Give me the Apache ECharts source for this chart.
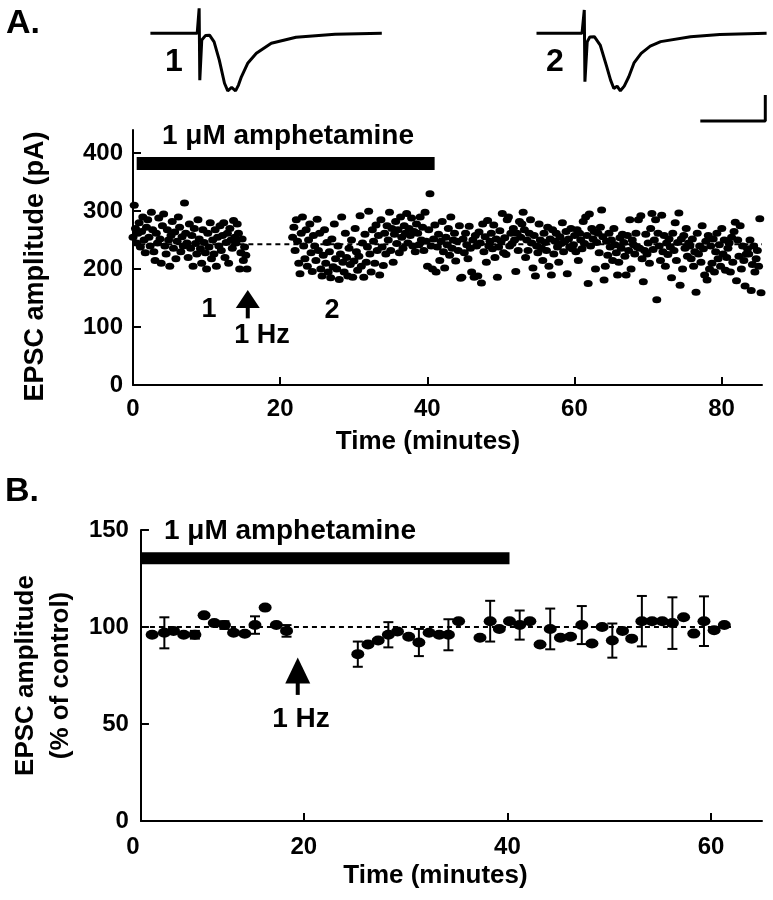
<!DOCTYPE html>
<html><head><meta charset="utf-8">
<script src="https://cdn.jsdelivr.net/npm/echarts@6/dist/echarts.min.js"></script>
<style>html,body{margin:0;padding:0;background:#fff}#c{width:773px;height:900px}</style>
</head><body><div id="c"></div>
<script>
// ===== DATA =====
// Example EPSC traces (time in ms, amplitude in pA)
const trace1Time = [0,7.2,7.5,7.6,7.9,8.5,9.1,9.8,10.6,11.4,11.9,12.5,13.1,13.55,14.0,15.0,16.3,18.6,22.4,28.4,35.6];
const trace1Amp  = [0,0,96,-180,-26,-8,-7,-33,-103,-192,-221,-208,-221,-199,-167,-114,-77,-38,-15,-4,0];
const trace2Time = [0,7.0,7.35,7.45,7.8,8.2,8.9,9.8,10.8,11.4,11.9,12.4,12.9,13.5,14.2,15.0,16.1,17.5,19.1,23.7,28.2,35.4];
const trace2Amp  = [0,0,90,-186,-33,-14,-13,-45,-128,-180,-212,-203,-221,-203,-167,-114,-77,-49,-32,-13,-5,0];
// Scale bar: 10 ms / 100 pA
const scaleBarTime = [25.2,35.2,35.2];
const scaleBarAmp  = [-337,-337,-237];

// Panel A: EPSC amplitude (pA), sampled every 10 s
const sampleStepMin = 1/6;
const segA1Start = 0;
const ampA1 = [
 255,310,270,245,262,280, 238,265,290,250,228,272, 285,255,240,298,268,230,
 215,262,245,288,252,210, 275,295,240,226,268,250, 205,258,282,236,264,218,
 248,290,272,230,256,240, 314,262,245,220,278,236, 258,205,270,244,226,285,
 252,235,210,268,246,228, 200,262,238,280,218,250, 226,268,205,255,240,275,
 232,258,280,220,246,262, 210,270,250,236,284,255, 245,278,262,200,228,252,
 215,238,224,200];
const segA2Start = 21.7;
const ampA2 = [
 255,272,232,285,248,210, 192,262,290,240,218,268, 205,250,278,228,196,258,
 240,215,286,232,262,200, 188,224,268,210,246,195, 230,185,252,204,278,218,
 200,240,182,226,290,212, 195,262,220,188,236,208, 250,186,214,270,230,198,
 222,292,205,245,186,260, 212,238,300,226,195,268, 248,210,276,232,258,190,
 285,238,206,262,226,275, 250,298,232,270,212,260, 282,244,268,228,290,255,
 236,275,262,296,245,270, 258,288,240,265,230,278, 262,242,290,250,272,232,
 298,248,205,268,330,240, 200,252,276,195,238,260, 215,248,282,230,202,255,
 242,270,224,290,236,250, 262,214,248,232,275,184, 186,252,228,262,242,218,
 274,236,195,250,186,258, 240,188,264,245,176,278, 230,256,212,284,240,248,
 262,235,276,220,252,186, 238,266,248,296,228,254, 225,285,290,240,262,244,
 270,250,196,262,232,282, 255,278,298,268,220,250, 232,262,285,245,202,258,
 188,240,228,278,250,236, 215,262,246,232,272,205, 252,190,268,226,248,262,
 238,212,256,244,280,230, 248,265,192,252,238,270, 235,242,258,230,268,215,
 262,250,235,282,244,290, 258,175,295,240,270,252, 265,200,246,262,228,272,
 302,256,181,205,248,224, 262,238,250,215,270,242, 228,190,212,254,236,260,
 246,222,190,258,232,285, 200,250,242,226,262,238, 285,236,292,218,178,232,
 260,226,245,210,270,296, 234,250,285,147,262,240, 215,293,230,258,205,245,
 225,252,238,185,262,232, 280,215,246,297,172,252, 200,258,236,270,222,245,
 240,218,252,205,230,160, 262,226,240,212,275,235, 190,248,181,258,200,240,
 210,252,195,230,262,218, 242,205,270,226,250,198, 220,236,245,195,255,212,
 265,281,180,250,222,275, 200,240,215,171,226,235, 226,250,163,208,240,195,
 218,232,205,287,159];
const baselineA = 243;           // mean amplitude, pA
const baselineASpan = [1, 85.5]; // minutes
const drugA = [0.5, 41];         // amphetamine application, minutes
const drugALevel = 382;
const stimA = [15.6, 115, 164];  // 1 Hz arrow: time, tail, tip (pA)
const xTicksA = [0,20,40,60,80];
const yTicksA = [0,100,200,300,400];

// Panel B: normalized EPSC amplitude (% of control), mean ± SEM
const timeB = [5.1,6.3,7.2,8.2,9.3,10.2,11.2,12.2,13.1,14.2,15.2,16.2,17.3,18.3,
 25.3,26.3,27.3,28.3,29.2,30.3,31.3,32.3,33.3,34.2,35.2,
 37.3,38.3,39.2,40.2,41.2,42.2,43.2,44.2,45.2,46.2,47.3,48.3,49.3,50.3,51.3,52.2,53.2,54.2,55.2,56.2,57.3,58.3,59.3,60.3,61.3];
const valB = [96,97,98,96,96,106,102,101,97,96.5,101,110,101,98,
 86,91,93,96,97.7,95,92,97,96,96,103,
 94.5,103,99,103,101,103,91,99,94.5,95,101,91.5,100,93,98,94,103,103,103,102,105,96.6,103,98.3,101];
const semB = [0,8,0,0,2,0,0,2,0,0,4.5,0,0,3,
 6.5,0,0,6.5,0,0,7,0,0,8,0,
 0,10.5,0,0,7.5,0,0,10.5,0,0,9.8,0,0,8.8,0,0,13,0,0,13.3,0,0,12.8,0,0];
const baselineB = 100;
const baselineBSpan = [4, 62];
const drugB = [4.1, 40.2];
const drugBLevel = 135.5;
const stimB = [19.4, 65, 84.3];
const xMinB = 4;                 // axis origin (marked "0" in the original figure)
const xTicksB = [20,40,60];
const yTicksB = [0,50,100,150];

// ===== CHART =====
const FONT = "'Liberation Sans', Arial, Helvetica, sans-serif";
const K = '#000';
const ELLIPSE = 'path://M0 4a5 4 0 1 0 10 0a5 4 0 1 0 -10 0z';

const ptsA = ampA1.map((v,i)=>[segA1Start + i*sampleStepMin, v])
  .concat(ampA2.map((v,i)=>[segA2Start + i*sampleStepMin, v]));
const ptsB = timeB.map((t,i)=>[t, valB[i]]);
const errB = timeB.map((t,i)=>[t, valB[i], semB[i]]).filter(d=>d[2]>0);
const zip = (a,b)=>a.map((x,i)=>[x,b[i]]);

function arrowRender(headH, headHalfW){
  return function(params, api){
    const x = api.value(0);
    const tail = api.coord([x, api.value(1)]);
    const tip = api.coord([x, api.value(2)]);
    return {type:'group', children:[
      {type:'rect', shape:{x:tip[0]-2, y:tip[1]+headH-1, width:4, height:tail[1]-tip[1]-headH+1}, style:{fill:K}},
      {type:'polygon', shape:{points:[[tip[0],tip[1]],[tip[0]-headHalfW,tip[1]+headH],[tip[0]+headHalfW,tip[1]+headH]]}, style:{fill:K}}
    ]};
  };
}
function errRender(params, api){
  const x = api.value(0), v = api.value(1), e = api.value(2);
  const lo = api.coord([x, v-e]), hi = api.coord([x, v+e]);
  const w = 5;
  const st = {stroke:K, lineWidth:2};
  return {type:'group', children:[
    {type:'line', shape:{x1:lo[0],y1:lo[1],x2:hi[0],y2:hi[1]}, style:st},
    {type:'line', shape:{x1:lo[0]-w,y1:lo[1],x2:lo[0]+w,y2:lo[1]}, style:st},
    {type:'line', shape:{x1:hi[0]-w,y1:hi[1],x2:hi[0]+w,y2:hi[1]}, style:st}
  ]};
}
function txt(s, x, y, size){
  return {type:'text', x:x, y:y, z:100, style:{text:s, fill:K, fontSize:size, fontFamily:FONT, fontWeight:'bold', align:'center', verticalAlign:'middle'}};
}
const axLine = {show:true, onZero:false, lineStyle:{color:K, width:2}};
const tick = (vals)=>({show:true, inside:true, length:8, lineStyle:{color:K, width:2}, customValues:vals});
const lab = (vals, margin)=>({show:true, color:K, fontSize:24, fontWeight:'bold', fontFamily:FONT, margin:margin, customValues:vals, hideOverlap:false});

const option = {
  animation:false,
  backgroundColor:'#fff',
  grid:[
    {left:150.4, top:0, width:234, height:127},
    {left:536.5, top:0, width:234, height:127},
    {left:133, top:130, width:629, height:255},
    {left:133, top:530, width:629, height:291}
  ],
  xAxis:[
    {gridIndex:0, type:'value', min:0, max:36, show:false},
    {gridIndex:1, type:'value', min:0, max:36, show:false},
    {gridIndex:2, type:'value', min:0, max:85.5, axisLine:axLine, axisTick:tick(xTicksA),
     axisLabel:lab(xTicksA, 12), splitLine:{show:false},
     name:'Time (minutes)', nameLocation:'middle', nameGap:44,
     nameTextStyle:{color:K, fontSize:26, fontWeight:'bold', fontFamily:FONT, padding:[0,39,0,0]}},
    {gridIndex:3, type:'value', min:xMinB, max:65, axisLine:axLine, axisTick:tick(xTicksB),
     axisLabel:lab(xTicksB, 14), splitLine:{show:false},
     name:'Time (minutes)', nameLocation:'middle', nameGap:42,
     nameTextStyle:{color:K, fontSize:26, fontWeight:'bold', fontFamily:FONT, padding:[0,32,0,0]}}
  ],
  yAxis:[
    {gridIndex:0, type:'value', min:-360, max:128, show:false},
    {gridIndex:1, type:'value', min:-360, max:128, show:false},
    {gridIndex:2, type:'value', min:0, max:440, axisLine:axLine, axisTick:tick(yTicksA),
     axisLabel:lab(yTicksA, 10), splitLine:{show:false},
     name:'EPSC amplitude (pA)', nameLocation:'middle', nameGap:84,
     nameTextStyle:{color:K, fontSize:27, fontWeight:'bold', fontFamily:FONT, padding:[0,18,0,0]}},
    {gridIndex:3, type:'value', min:0, max:150, axisLine:axLine, axisTick:tick(yTicksB),
     axisLabel:lab(yTicksB, 12), splitLine:{show:false},
     name:'EPSC amplitude\n(% of control)', nameLocation:'middle', nameGap:39,
     nameTextStyle:{color:K, fontSize:26, fontWeight:'bold', fontFamily:FONT, lineHeight:35}}
  ],
  series:[
    {type:'line', xAxisIndex:0, yAxisIndex:0, data:zip(trace1Time, trace1Amp), showSymbol:false, symbol:'none', lineStyle:{color:K, width:3}},
    {type:'line', xAxisIndex:1, yAxisIndex:1, data:zip(trace2Time, trace2Amp), showSymbol:false, symbol:'none', lineStyle:{color:K, width:3}},
    {type:'line', xAxisIndex:1, yAxisIndex:1, data:zip(scaleBarTime, scaleBarAmp), showSymbol:false, symbol:'none', lineStyle:{color:K, width:3}},
    {type:'line', xAxisIndex:2, yAxisIndex:2, data:[[baselineASpan[0],baselineA],[baselineASpan[1],baselineA]], symbol:'none', z:1, lineStyle:{color:K, width:2, type:[5,4]}},
    {type:'line', xAxisIndex:2, yAxisIndex:2, data:[[drugA[0],drugALevel],[drugA[1],drugALevel]], symbol:'none', lineStyle:{color:K, width:13}},
    {type:'scatter', xAxisIndex:2, yAxisIndex:2, data:ptsA, symbol:ELLIPSE, symbolSize:[9,7], itemStyle:{color:K, opacity:1}, z:3},
    {type:'custom', xAxisIndex:2, yAxisIndex:2, data:[stimA], renderItem:arrowRender(18,12), encode:{x:0, y:[1,2]}},
    {type:'line', xAxisIndex:3, yAxisIndex:3, data:[[baselineBSpan[0],baselineB],[baselineBSpan[1],baselineB]], symbol:'none', z:1, lineStyle:{color:K, width:2, type:[5,4]}},
    {type:'line', xAxisIndex:3, yAxisIndex:3, data:[[drugB[0],drugBLevel],[drugB[1],drugBLevel]], symbol:'none', lineStyle:{color:K, width:12}},
    {type:'custom', xAxisIndex:3, yAxisIndex:3, data:errB, renderItem:errRender, encode:{x:0, y:[1,2]}, z:2},
    {type:'scatter', xAxisIndex:3, yAxisIndex:3, data:ptsB, symbol:ELLIPSE, symbolSize:[13,10], itemStyle:{color:K, opacity:1}, z:3},
    {type:'custom', xAxisIndex:3, yAxisIndex:3, data:[stimB], renderItem:arrowRender(26,12.5), encode:{x:0, y:[1,2]}}
  ],
  graphic:[
    txt('A.', 23, 24, 34),
    txt('B.', 22, 492, 34),
    txt('1', 174, 62, 32),
    txt('2', 555, 62, 32),
    txt('1 \u03bcM amphetamine', 288, 136, 28),
    txt('1', 209, 310, 27),
    txt('2', 332, 311, 27),
    txt('1 Hz', 262, 336, 27),
    txt('1 \u03bcM amphetamine', 290, 531, 28),
    txt('1 Hz', 301, 719, 28),
    txt('0', 133, 847, 24)
  ]
};
const chart = echarts.init(document.getElementById('c'), null, {renderer:'canvas'});
chart.setOption(option);
</script>
</body></html>
